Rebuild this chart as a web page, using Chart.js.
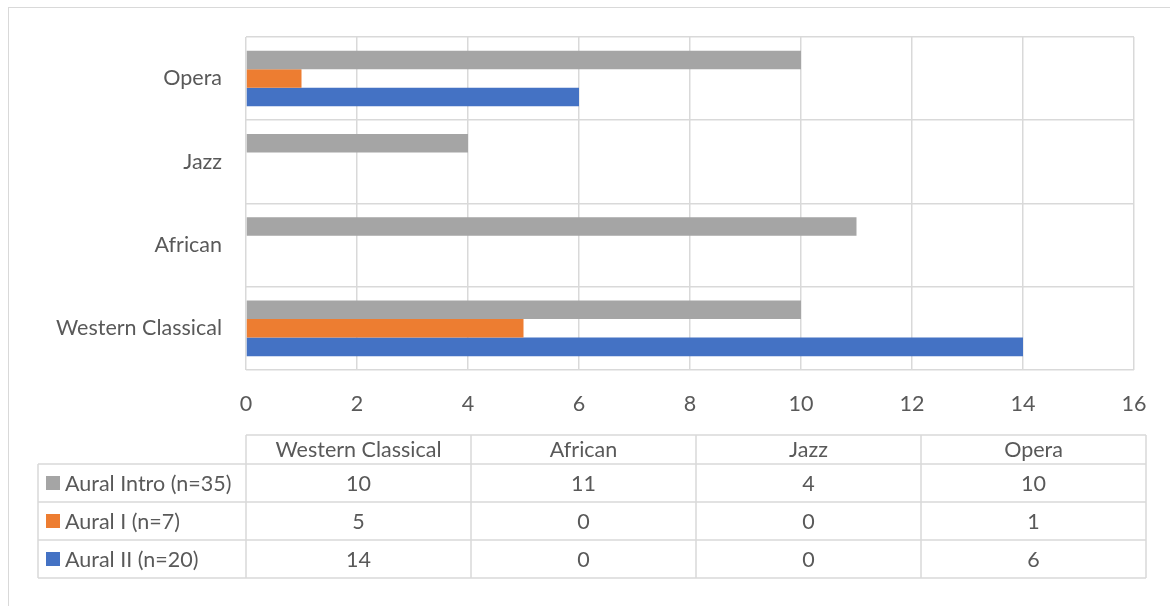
<!DOCTYPE html>
<html>
<head>
<meta charset="utf-8">
<script src="https://cdn.jsdelivr.net/npm/chart.js@4"></script>
<style>
  html, body { margin: 0; padding: 0; background: #fff; }
  #wrap { position: relative; width: 1170px; height: 606px; overflow: hidden; }
  #frame { position: absolute; left: 8px; top: 7px; width: 1200px; height: 640px; border: 1.5px solid #d9d9d9; box-sizing: border-box; }
  #myChart { position: absolute; left: 0; top: 0; }
</style>
</head>
<body>
<div id="wrap">
  <div id="frame"></div>
  <canvas id="myChart" width="1170" height="606"></canvas>
</div>
<script>
var categories = ["Western Classical", "African", "Jazz", "Opera"];
var seriesNames = ["Aural Intro (n=35)", "Aural I (n=7)", "Aural II (n=20)"];
var auralIntro = [10, 11, 4, 10];
var auralI = [5, 0, 0, 1];
var auralII = [14, 0, 0, 6];
var xTicks = [0, 2, 4, 6, 8, 10, 12, 14, 16];

var barColors = ["#a5a5a5", "#ed7d31", "#4472c4"];
var textColor = "#595959";
var gridColor = "#d9d9d9";
var fontFamily = "Lato, 'Open Sans', sans-serif";
var fontSize = 21.5;

// data table under the plot, same layout as the spreadsheet one
const dataTable = {
  id: "dataTable",
  afterDraw(chart) {
    const ctx = chart.ctx;
    const area = chart.chartArea;
    const rows = [auralIntro, auralI, auralII];
    const left = area.left;
    const colW = 225;
    const legendLeft = 38;
    const headTop = 435, headH = 29, rowH = 38;
    const right = left + colW * categories.length;
    const bottom = headTop + headH + rowH * rows.length;

    ctx.save();
    ctx.strokeStyle = gridColor;
    ctx.lineWidth = 1.5;
    ctx.beginPath();
    // header row lines
    ctx.moveTo(left, headTop); ctx.lineTo(right, headTop);
    for (let r = 0; r <= rows.length; r++) {
      const y = headTop + headH + r * rowH;
      ctx.moveTo(legendLeft, y); ctx.lineTo(right, y);
    }
    ctx.moveTo(legendLeft, headTop + headH); ctx.lineTo(legendLeft, bottom);
    for (let c = 0; c <= categories.length; c++) {
      const x = left + c * colW;
      ctx.moveTo(x, headTop); ctx.lineTo(x, bottom);
    }
    ctx.stroke();

    ctx.fillStyle = textColor;
    ctx.font = fontSize + "px " + fontFamily;
    ctx.textAlign = "center";
    ctx.textBaseline = "middle";
    categories.forEach(function (name, c) {
      ctx.fillText(name, left + c * colW + colW / 2, headTop + headH / 2 + 1);
    });
    rows.forEach(function (vals, r) {
      const y = headTop + headH + r * rowH + rowH / 2 + 1;
      vals.forEach(function (v, c) {
        ctx.fillText(String(v), left + c * colW + colW / 2, y);
      });
      ctx.fillStyle = barColors[r];
      ctx.fillRect(46, y - 8, 14, 14);
      ctx.fillStyle = textColor;
      ctx.textAlign = "left";
      ctx.fillText(seriesNames[r], 65, y);
      ctx.textAlign = "center";
    });
    ctx.restore();
  }
};

new Chart("myChart", {
  type: "bar",
  data: {
    labels: categories,
    datasets: [
      { label: seriesNames[0], data: auralIntro, backgroundColor: barColors[0] },
      { label: seriesNames[1], data: auralI, backgroundColor: barColors[1] },
      { label: seriesNames[2], data: auralII, backgroundColor: barColors[2] }
    ]
  },
  options: {
    indexAxis: "y",
    responsive: false,
    animation: false,
    categoryPercentage: 0.667,
    barPercentage: 1,
    layout: { padding: { left: 0, top: 36, right: 36, bottom: 186 } },
    plugins: { legend: { display: false }, tooltip: { enabled: false } },
    scales: {
      x: {
        min: 0,
        max: 16,
        afterBuildTicks(scale) { scale.ticks = xTicks.map(function (v) { return { value: v }; }); },
        afterFit(scale) { scale.height = 50; },
        grid: { color: gridColor, lineWidth: 1.5, drawTicks: false },
        border: { display: false },
        ticks: { color: textColor, font: { size: fontSize, family: fontFamily }, padding: 21 }
      },
      y: {
        reverse: true,
        afterFit(scale) { scale.width = 246; },
        grid: { color: gridColor, lineWidth: 1.5, offset: true, drawTicks: false },
        border: { display: false },
        ticks: { color: textColor, font: { size: fontSize, family: fontFamily }, padding: 24 }
      }
    }
  },
  plugins: [dataTable]
});
</script>
</body>
</html>
